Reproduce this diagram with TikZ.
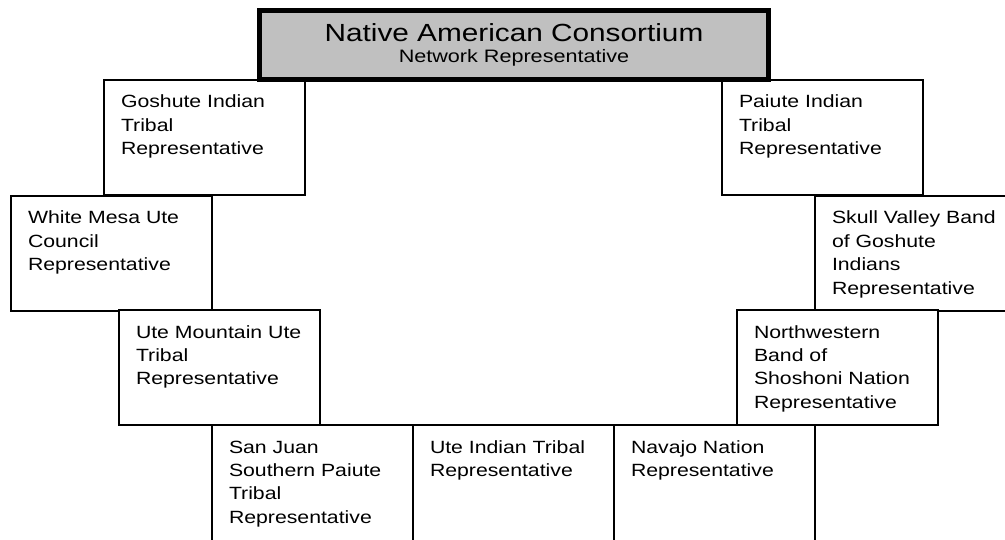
\documentclass[tikz,border=0pt]{standalone}
\usepackage{fontspec}
\setmainfont{Liberation Sans}[FakeStretch=1.2]
\usepackage{xcolor}
\usepackage{tikz}
\usetikzlibrary{positioning}
\definecolor{ink}{RGB}{0,0,0}
\definecolor{headgray}{RGB}{192,192,192}
\tikzset{
  tribe/.style   ={rectangle, draw=ink, line width=1.4pt, fill=white, anchor=north west,
                   outer sep=0pt, inner xsep=17pt, inner ysep=15pt, text width=167pt,
                   minimum width=201pt, minimum height=115pt, text height=13pt, text depth=72pt,
                   align=left, font=\fontsize{17.7}{23.5}\selectfont},
  openbox/.style ={tribe, minimum height=135pt, text depth=92pt},
  headbox/.style ={rectangle, draw=ink, line width=5pt, fill=headgray, outer sep=0pt,
                   minimum width=509pt, minimum height=69pt, align=center,
                   font=\fontsize{18}{21}\selectfont},
}
\begin{document}
\begin{tikzpicture}[x=1pt, y=-1pt]
\useasboundingbox (0,0) rectangle (1005,540);
\clip (0,0) rectangle (1005,540);

\node[tribe] (goshute) at (104,80)
  {Goshute Indian\\Tribal\\Representative};
\node[tribe] (paiute) at (722,80)
  {Paiute Indian\\Tribal\\Representative};
\node[tribe] (whitemesa) at (11,196)
  {White Mesa Ute\\Council\\Representative};
\node[tribe] (skullvalley) at (815,196)
  {Skull Valley Band\\of Goshute\\Indians\\Representative};
\node[tribe] (utemountain) at (119,310)
  {Ute Mountain Ute\\Tribal\\Representative};
\node[tribe] (northwestern) at (737,310)
  {Northwestern\\Band of\\Shoshoni Nation\\Representative};

\node[openbox] (sanjuan) at (212,425)
  {San Juan\\Southern Paiute\\Tribal\\Representative};
\node[openbox] (uteindian) at (413,425)
  {Ute Indian Tribal\\Representative};
\node[openbox] (navajo) at (614,425)
  {Navajo Nation\\Representative};

\node[headbox] (nac) at (514,45)
  {{\fontsize{24.8}{21}\selectfont Native American Consortium}\\Network Representative};
\end{tikzpicture}
\end{document}
